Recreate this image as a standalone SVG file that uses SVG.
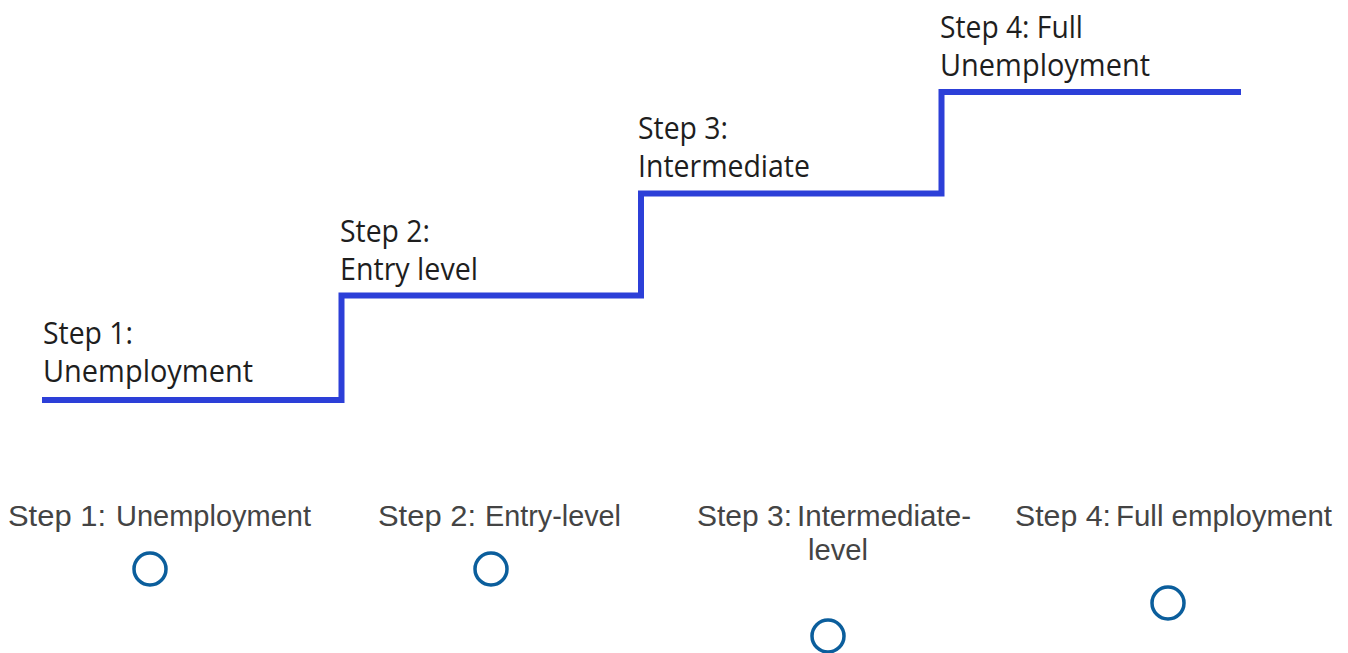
<svg xmlns="http://www.w3.org/2000/svg" width="1348" height="653" viewBox="0 0 1348 653">
  <style>
    .stair { fill: none; stroke: #2c3fd8; stroke-width: 6; stroke-linejoin: miter; stroke-linecap: butt; }
    .step-label { font-family: "Open Sans", "Noto Sans", sans-serif; font-size: 31px; fill: #1e1e1e; }
    .choice-label { font-family: "Liberation Sans", Arial, sans-serif; font-size: 30px; fill: #444444; }
    .radio { fill: none; stroke: #0b5e9c; stroke-width: 3.5; }
  </style>
  <rect width="1348" height="653" fill="#ffffff"/>

  <!-- staircase -->
  <g id="connectors">
    <path class="stair" d="M42,400 H341.5 V295.5 H641 V193.5 H941.5 V92 H1241"/>
  </g>

  <!-- step labels on the stairs -->
  <g id="stair-step-1">
    <text class="step-label" x="43" y="344" textLength="90" lengthAdjust="spacingAndGlyphs">Step 1:</text>
    <text class="step-label" x="43" y="382" textLength="210" lengthAdjust="spacingAndGlyphs">Unemployment</text>
  </g>
  <g id="stair-step-2">
    <text class="step-label" x="340" y="242" textLength="90" lengthAdjust="spacingAndGlyphs">Step 2:</text>
    <text class="step-label" x="340" y="280" textLength="138" lengthAdjust="spacingAndGlyphs">Entry level</text>
  </g>
  <g id="stair-step-3">
    <text class="step-label" x="638" y="139" textLength="90" lengthAdjust="spacingAndGlyphs">Step 3:</text>
    <text class="step-label" x="638" y="177" textLength="172" lengthAdjust="spacingAndGlyphs">Intermediate</text>
  </g>
  <g id="stair-step-4">
    <text class="step-label" x="940" y="38" textLength="143" lengthAdjust="spacingAndGlyphs">Step 4: Full</text>
    <text class="step-label" x="940" y="76" textLength="210" lengthAdjust="spacingAndGlyphs">Unemployment</text>
  </g>

  <!-- choices below the staircase -->
  <g id="choice-1">
    <text class="choice-label" x="8" y="526" textLength="98" lengthAdjust="spacingAndGlyphs">Step 1:</text>
    <text class="choice-label" x="116" y="526" textLength="195" lengthAdjust="spacingAndGlyphs">Unemployment</text>
    <circle class="radio" cx="150" cy="569" r="16"/>
  </g>
  <g id="choice-2">
    <text class="choice-label" x="378" y="526" textLength="98" lengthAdjust="spacingAndGlyphs">Step 2:</text>
    <text class="choice-label" x="485" y="526" textLength="136" lengthAdjust="spacingAndGlyphs">Entry-level</text>
    <circle class="radio" cx="491" cy="569" r="16"/>
  </g>
  <g id="choice-3">
    <text class="choice-label" x="697" y="526" textLength="95" lengthAdjust="spacingAndGlyphs">Step 3:</text>
    <text class="choice-label" x="797" y="526" textLength="174" lengthAdjust="spacingAndGlyphs">Intermediate-</text>
    <text class="choice-label" x="808" y="560" textLength="60" lengthAdjust="spacingAndGlyphs">level</text>
    <circle class="radio" cx="828" cy="636" r="16"/>
  </g>
  <g id="choice-4">
    <text class="choice-label" x="1015" y="526" textLength="96" lengthAdjust="spacingAndGlyphs">Step 4:</text>
    <text class="choice-label" x="1116" y="526" textLength="216" lengthAdjust="spacingAndGlyphs">Full employment</text>
    <circle class="radio" cx="1168" cy="603" r="16"/>
  </g>
</svg>
